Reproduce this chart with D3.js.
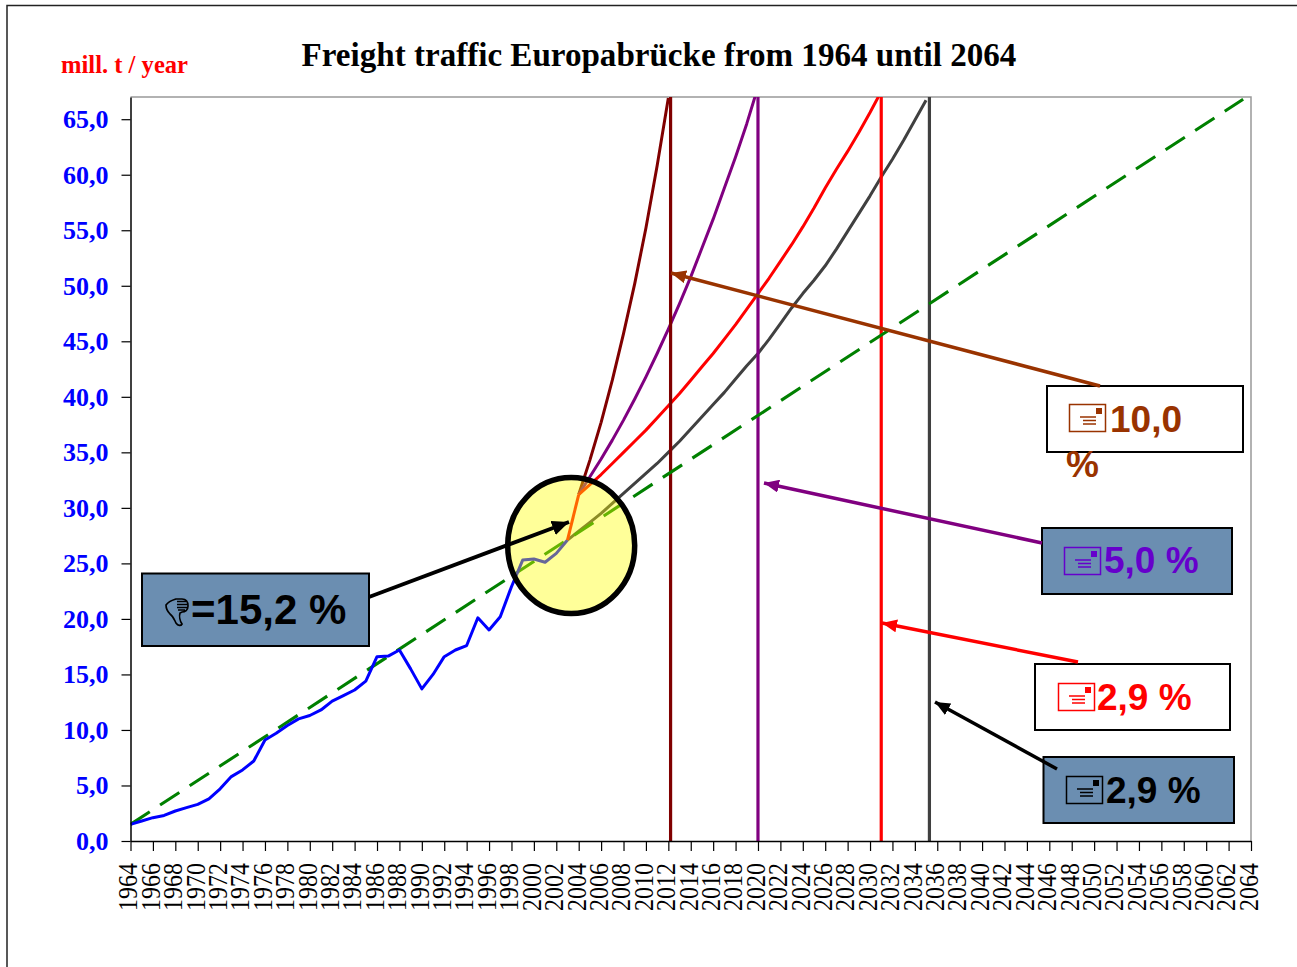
<!DOCTYPE html>
<html>
<head>
<meta charset="utf-8">
<script src="https://cdn.jsdelivr.net/npm/d3@7"></script>
<style>
  html, body { margin: 0; padding: 0; background: #fff; overflow: hidden; }
  svg { display: block; }
  text { font-family: "Liberation Serif", serif; }
  .callout text { font-family: "Liberation Sans", sans-serif; font-weight: bold; }
</style>
</head>
<body>
<div id="chart"></div>
<script>
// measured traffic
const measuredYears = d3.range(1964, 2004);
const measured = [1.5, 1.8, 2.1, 2.3, 2.7, 3.0, 3.3, 3.8, 4.7, 5.8,
                  6.4, 7.2, 9.1, 9.7, 10.4, 11.0, 11.3, 11.8, 12.6, 13.1,
                  13.6, 14.4, 16.6, 16.65, 17.2, 15.5, 13.7, 15.0, 16.6, 17.2,
                  17.6, 20.1, 19.0, 20.2, 22.9, 25.3, 25.4, 25.1, 25.9, 27.1];

// jump of 2004
const jumpYears = [2003, 2004];
const jump = [27.1, 31.2];

// forecast curves, first value is 2004
const forecast100 = [31.2, 34.3, 37.7, 41.5, 45.7, 50.2, 55.2, 60.8, 66.9];
const forecast50 = [31.2, 32.8, 34.4, 36.1, 37.9, 39.8, 41.8, 43.9, 46.1, 48.4,
                    50.8, 53.4, 56.0, 58.8, 61.6, 64.6, 67.9];
const forecast29 = [31.2, 32.1, 33.0, 34.0, 35.0, 36.0, 37.0, 38.1, 39.2, 40.3,
                    41.5, 42.7, 43.9, 45.2, 46.5, 47.9, 49.3, 50.7, 52.2, 53.7,
                    55.3, 57.0, 58.8, 60.5, 62.1, 63.8, 65.6, 67.5];
// this one starts at 2003, without the jump
const forecastLow = [27.1, 27.9, 28.7, 29.5, 30.4, 31.3, 32.2, 33.1, 34.0, 35.0,
                     36.0, 37.1, 38.2, 39.3, 40.4, 41.6, 42.8, 43.9, 45.2, 46.6,
                     48.0, 49.3, 50.5, 51.8, 53.3, 54.9, 56.5, 58.1, 59.8, 61.4,
                     63.1, 64.9, 66.7];

// straight trend (green dashes)
const trendYears = [1964, 2063.3];
const trend = [1.5, 66.8];

// year where each curve leaves the chart
const dropYears = [2012.2, 2020, 2031, 2035.3];
const dropColors = ["#800000", "#800080", "#ff0000", "#404040"];

const yearTicks = d3.range(1964, 2065, 2);
const valueTicks = d3.range(0, 66, 5);

const width = 1297, height = 967;
const margin = {top: 97, right: 46, bottom: 126, left: 130.5};

const svg = d3.select("#chart")
              .append("svg")
              .attr("width", width)
              .attr("height", height);

const x = d3.scaleLinear()
            .domain([1964, 2064])
            .range([margin.left, width - margin.right]);

const y = d3.scaleLinear()
            .domain([0, 67])
            .range([height - margin.bottom, margin.top]);

// frame round the picture
svg.append("path")
   .attr("d", `M7,${height} V5.5 H${width}`)
   .attr("fill", "none")
   .attr("stroke", "#222")
   .attr("stroke-width", 1.5);

svg.append("defs").append("clipPath")
   .attr("id", "plot")
   .append("rect")
   .attr("x", margin.left)
   .attr("y", margin.top)
   .attr("width", x(2064) - x(1964))
   .attr("height", y(0) - y(67));

// top and right edge of the plot
svg.append("path")
   .attr("d", `M${x(1964)},${y(67)} H${x(2064)} V${y(0)}`)
   .attr("fill", "none")
   .attr("stroke", "#999")
   .attr("stroke-width", 1.5);

const line = d3.line().x(d => x(d[0])).y(d => y(d[1]));
const plot = svg.append("g").attr("clip-path", "url(#plot)");

function drawSeries(years, values, color, w, dash) {
  plot.append("path")
      .datum(values.map((v, i) => [years[i], v]))
      .attr("d", line)
      .attr("fill", "none")
      .attr("stroke", color)
      .attr("stroke-width", w)
      .attr("stroke-linejoin", "round")
      .attr("stroke-dasharray", dash || null);
}

const from2004 = arr => arr.map((v, i) => 2004 + i);

drawSeries(from2004(forecast100), forecast100, "#800000", 3);
drawSeries(from2004(forecast50), forecast50, "#800080", 3);
drawSeries(from2004(forecast29), forecast29, "#ff0000", 3);
drawSeries(forecastLow.map((v, i) => 2003 + i), forecastLow, "#404040", 3);

plot.selectAll(".drop")
    .data(dropYears)
    .enter()
    .append("line")
    .attr("class", "drop")
    .attr("x1", d => x(d))
    .attr("x2", d => x(d))
    .attr("y1", y(67))
    .attr("y2", y(0))
    .attr("stroke", (d, i) => dropColors[i])
    .attr("stroke-width", 3.2);

drawSeries(trendYears, trend, "#008000", 3.1, "23 12.3");
drawSeries(measuredYears, measured, "#0000ff", 3);
drawSeries(jumpYears, jump, "#ff0000", 3);

// axes
const xAxis = svg.append("g")
   .attr("transform", `translate(0,${y(0)})`)
   .call(d3.axisBottom(x).tickValues(yearTicks).tickFormat(d3.format("d")).tickSize(10).tickSizeOuter(0));

xAxis.selectAll("text")
     .attr("transform", "translate(-3,0) rotate(-90) scale(1,1.14)")
     .attr("x", -22)
     .attr("y", 0)
     .attr("dy", "0.34em")
     .attr("text-anchor", "end")
     .attr("fill", "#000")
     .style("font-size", "24px");

const yAxis = svg.append("g")
   .attr("transform", `translate(${x(1964)},0)`)
   .call(d3.axisLeft(y).tickValues(valueTicks)
           .tickFormat(d => d3.format(".1f")(d).replace(".", ","))
           .tickSize(9).tickSizeOuter(0));

yAxis.selectAll("text")
     .attr("x", -22)
     .attr("fill", "#0000ff")
     .style("font-size", "26px")
     .style("font-weight", "bold");

svg.selectAll(".domain").attr("stroke", "#000").attr("stroke-width", 1.5);
svg.selectAll(".tick line").attr("stroke", "#000").attr("stroke-width", 1.2);

// titles
svg.append("text")
   .attr("x", 659)
   .attr("y", 66)
   .attr("text-anchor", "middle")
   .attr("font-size", 33.1)
   .attr("font-weight", "bold")
   .text("Freight traffic Europabrücke from 1964 until 2064");

svg.append("text")
   .attr("x", 61)
   .attr("y", 73)
   .attr("font-size", 24.6)
   .attr("font-weight", "bold")
   .attr("fill", "#ff0000")
   .text("mill. t / year");

// circle round the 2004 jump, see-through so the lines change colour under it
svg.append("ellipse")
   .attr("cx", x(2003.33))
   .attr("cy", y(26.6))
   .attr("rx", 63.5)
   .attr("ry", 68)
   .attr("fill", "#ffff00")
   .attr("fill-opacity", 0.4)
   .attr("stroke", "#000")
   .attr("stroke-width", 5.5);

// arrows and boxes
const defs = svg.select("defs");
function arrowHead(id, color, len, wid) {
  defs.append("marker")
      .attr("id", id)
      .attr("markerUnits", "userSpaceOnUse")
      .attr("viewBox", `0 0 ${len} ${wid}`)
      .attr("refX", len)
      .attr("refY", wid / 2)
      .attr("markerWidth", len)
      .attr("markerHeight", wid)
      .attr("orient", "auto")
      .append("path")
      .attr("d", `M0,0 L${len},${wid / 2} L0,${wid} Z`)
      .attr("fill", color);
}

const blue = "#6b8eb1";
const callouts = [
  {color: "#993300", arrowColor: "#993300", fill: "#fff", box: [1047, 386, 196, 66], icon: [1069, 404],
   text: "10,0", textX: 1110, base: 432, arrow: [[1100, 386], [671, 273]]},
  {color: "#6600cc", arrowColor: "#800080", fill: blue, box: [1042, 528, 190, 66], icon: [1064, 547],
   text: "5,0 %", textX: 1104, base: 573, arrow: [[1042, 543], [764, 483]]},
  {color: "#ff0000", arrowColor: "#ff0000", fill: "#fff", box: [1035, 664, 195, 66], icon: [1058, 683],
   text: "2,9 %", textX: 1097, base: 710, arrow: [[1078, 662], [882, 623]]},
  {color: "#000000", arrowColor: "#000000", fill: blue, box: [1043.5, 757, 190.5, 66], icon: [1066, 776],
   text: "2,9 %", textX: 1106, base: 803, arrow: [[1057, 769], [935, 702]]}
];

function drawArrow(a, color, w, id) {
  svg.append("line")
     .attr("x1", a[0][0]).attr("y1", a[0][1])
     .attr("x2", a[1][0]).attr("y2", a[1][1])
     .attr("stroke", color)
     .attr("stroke-width", w)
     .attr("marker-end", `url(#${id})`);
}

callouts.forEach((c, i) => {
  const g = svg.append("g").attr("class", "callout");
  g.append("rect")
   .attr("x", c.box[0]).attr("y", c.box[1])
   .attr("width", c.box[2]).attr("height", c.box[3])
   .attr("fill", c.fill)
   .attr("stroke", "#000")
   .attr("stroke-width", 2);

  // postcard symbol
  const ic = g.append("g").attr("transform", `translate(${c.icon[0]},${c.icon[1]})`);
  ic.append("rect").attr("x", 0.5).attr("y", 0.5).attr("width", 36).attr("height", 27)
    .attr("fill", "none").attr("stroke", c.color).attr("stroke-width", 1.5);
  ic.append("rect").attr("x", 27).attr("y", 4).attr("width", 6).attr("height", 6).attr("fill", c.color);
  ic.append("path")
    .attr("d", "M11,13 H27 M14,16.5 H27 M14,20 H27")
    .attr("stroke", c.color).attr("stroke-width", 1.3).attr("fill", "none");

  g.append("text")
   .attr("x", c.textX).attr("y", c.base)
   .attr("font-size", 37)
   .attr("fill", c.color)
   .text(c.text);

  arrowHead("head" + i, c.arrowColor, 15, 13);
  drawArrow(c.arrow, c.arrowColor, 3.5, "head" + i);
});

// the % of the first box runs out under it
svg.append("g").attr("class", "callout").append("text")
   .attr("x", 1066)
   .attr("y", 477)
   .attr("font-size", 37)
   .attr("fill", "#993300")
   .text("%");

// box of the 15,2 % jump
const jumpBox = svg.append("g").attr("class", "callout");
jumpBox.append("rect")
       .attr("x", 142).attr("y", 573.5)
       .attr("width", 227).attr("height", 72.5)
       .attr("fill", blue)
       .attr("stroke", "#000")
       .attr("stroke-width", 2);

// thumb down symbol
jumpBox.append("path")
       .attr("transform", "translate(165,598)")
       .attr("d", "M1,7 C4,3 8,2 11,1 L17,1 C21,1 23,4 23,8 C23,12 20,14 17,14 L15,15 C14,18 15,23 17,26 C16,28 13,28 11,25 C9,21 8,18 5,16 C3,14 1,11 1,7 Z M12,3.5 H21 M12,6.5 H22 M12,9.5 H22 M13,12 H20")
       .attr("fill", "none")
       .attr("stroke", "#000")
       .attr("stroke-width", 1.7);

jumpBox.append("text")
       .attr("x", 191)
       .attr("y", 624)
       .attr("font-size", 42)
       .attr("fill", "#000")
       .text("=15,2 %");

arrowHead("headJump", "#000", 17, 15);
drawArrow([[369, 597], [569, 522]], "#000", 3.8, "headJump");
</script>
</body>
</html>
